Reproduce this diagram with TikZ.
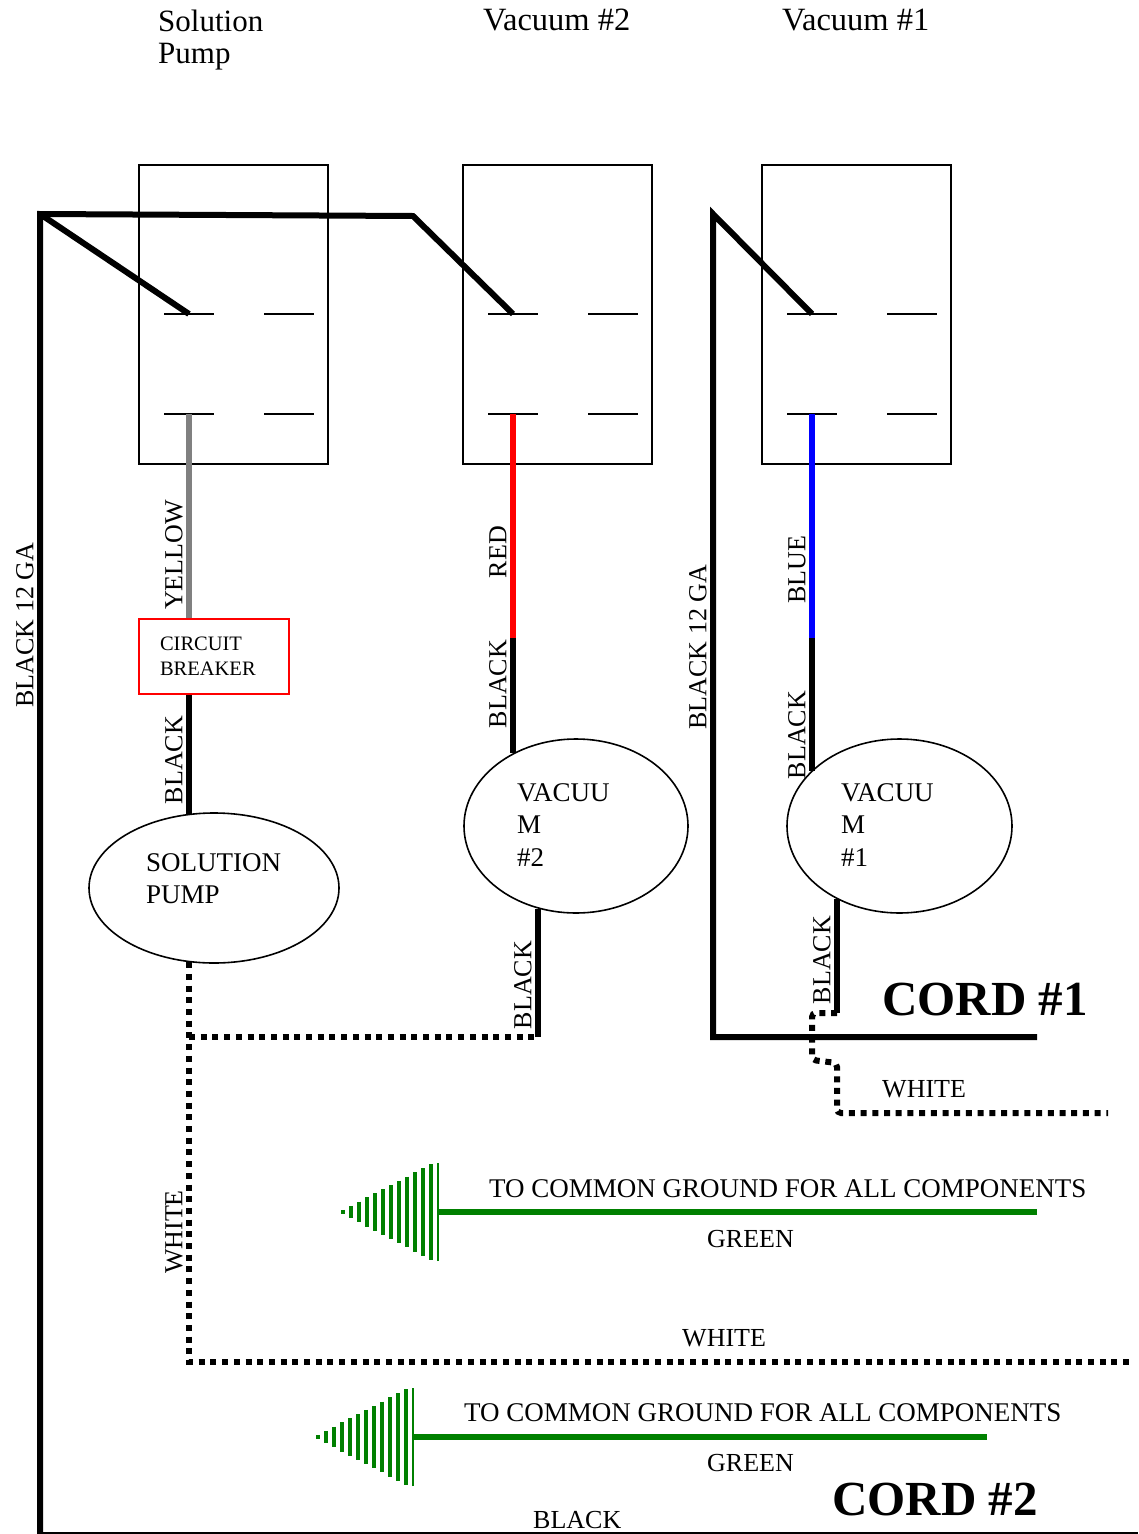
\documentclass[tikz,border=0pt]{standalone}
\usepackage{fontspec}
\setmainfont{Liberation Serif}
\usetikzlibrary{shapes.geometric, positioning}

\definecolor{wiregreen}{RGB}{0,128,0}

\tikzset{
	wire/.style={line width=6pt},
	whitewire/.style={line width=6pt, dash pattern=on 6pt off 5.7pt},
	groundwire/.style={line width=6pt, draw=wiregreen},
	groundstripe/.style={line width=4pt, draw=wiregreen},
	groundbar/.style={line width=1.5pt, draw=wiregreen},
	switchbox/.style={draw, line width=1.6pt, minimum width=189pt, minimum height=299pt, inner sep=0pt},
	contact/.style={line width=1.8pt},
	breaker/.style={draw=red, line width=1.6pt, minimum width=150pt, minimum height=75pt, text width=108pt, inner xsep=21pt, inner ysep=0pt, align=left, font=\fontsize{20.5}{25}\selectfont},
	motor/.style={draw, ellipse, line width=1.6pt, inner sep=0pt},
	motortext/.style={anchor=north west, align=left, inner sep=0pt, font=\fontsize{27}{32.5}\selectfont},
	toplabel/.style={inner sep=0pt, font=\fontsize{31}{32}\selectfont},
	wirelabel/.style={rotate=90, inner sep=0pt, font=\fontsize{26}{26}\selectfont},
	plainlabel/.style={anchor=base west, inner sep=0pt, font=\fontsize{26}{26}\selectfont},
	groundtext/.style={anchor=base west, inner sep=0pt, font=\fontsize{27}{27}\selectfont},
	cordlabel/.style={anchor=base west, inner sep=0pt, font=\fontsize{49}{49}\selectfont\bfseries}
}

\begin{document}
\begin{tikzpicture}[x=1pt, y=-1pt]
	\useasboundingbox (0,0) rectangle (1138,1534);

	\node[toplabel, anchor=north west, align=left] (SolutionTitle) at (158,10) {Solution\\Pump};
	\node[toplabel, anchor=base west, font=\fontsize{32.5}{32}\selectfont] (VacuumTwoTitle) at (483,30) {Vacuum \#2};
	\node[toplabel, anchor=base west, font=\fontsize{32.5}{32}\selectfont] (VacuumOneTitle) at (782,30) {Vacuum \#1};

	\node[switchbox] (SolSwitch) at (233.5,314.5) {};
	\node[switchbox] (VacTwoSwitch) at (557.5,314.5) {};
	\node[switchbox] (VacOneSwitch) at (856.5,314.5) {};
	\foreach \x in {164,264,488,588,787,887}
		\draw[contact] (\x,314) -- ++(50,0) (\x,414) -- ++(50,0);

	\coordinate (SolIn) at (189,314);
	\coordinate (SolOut) at (189,414);
	\coordinate (VacTwoIn) at (513,314);
	\coordinate (VacTwoOut) at (513,414);
	\coordinate (VacOneIn) at (812,314);
	\coordinate (VacOneOut) at (812,414);
	\coordinate (LeftTop) at (40,214);
	\coordinate (LeftBottom) at (40,1534);
	\coordinate (TopBend) at (413,216);
	\coordinate (CordOneTop) at (713,214);
	\coordinate (CordOneBend) at (713,1037);
	\coordinate (CordOneEnd) at (1037,1037);
	\coordinate (VacTwoSplice) at (513,638);
	\coordinate (VacOneSplice) at (812,638);
	\coordinate (VacTwoReturn) at (538,1037);
	\coordinate (VacOneReturn) at (837,1013);
	\coordinate (WhiteOneEnd) at (1108,1113);
	\coordinate (WhiteTwoEnd) at (1134,1362);
	\coordinate (CordTwoBlack) at (1138,1532.8);

	\node[breaker] (Breaker) at (214,656.5) {CIRCUIT\\BREAKER};
	\node[motor, minimum width=250pt, minimum height=150pt] (SolPump) at (214,888) {};
	\node[motor, minimum width=224pt, minimum height=174pt] (VacTwo) at (576,826) {};
	\node[motor, minimum width=225pt, minimum height=174pt] (VacOne) at (899.5,826) {};
	\node[motortext] (SolPumpText) at (146,853) {SOLUTION\\PUMP};
	\node[motortext] (VacTwoText) at (517,783) {VACUU\\M\\\#2};
	\node[motortext] (VacOneText) at (841,783) {VACUU\\M\\\#1};

	\draw[wire] (LeftBottom) -- (LeftTop) -- (TopBend) -- (VacTwoIn);
	\draw[wire] (LeftTop) -- (SolIn);
	\draw[wire] (VacOneIn) -- (CordOneTop) -- (CordOneBend) -- (CordOneEnd);
	\draw[line width=2.5pt] (LeftBottom |- CordTwoBlack) -- (CordTwoBlack);

	\draw[wire, gray] (SolOut) -- (SolOut |- Breaker.north);
	\draw[wire] (SolOut |- Breaker.south) -- (SolOut |- SolPump.109);
	\draw[wire, red] (VacTwoOut) -- (VacTwoSplice);
	\draw[wire] (VacTwoSplice) -- (VacTwoSplice |- VacTwo.131);
	\draw[wire] (VacTwo.245 -| VacTwoReturn) -- (VacTwoReturn);
	\draw[wire, blue] (VacOneOut) -- (VacOneSplice);
	\draw[wire] (VacOneSplice) -- (VacOneSplice |- VacOne.148);
	\draw[wire] (VacOne.229 -| VacOneReturn) -- (VacOneReturn);

	\draw[whitewire] (SolPump.251 -| SolOut) -- (SolOut |- WhiteTwoEnd) -- (WhiteTwoEnd);
	\draw[whitewire] (SolOut |- VacTwoReturn) -- (VacTwoReturn);
	\draw[whitewire, rounded corners=4pt] (VacOneReturn) -- ++(-25,0) -- ++(0,47) -- ++(25,3) -- (VacOneReturn |- WhiteOneEnd) -- (WhiteOneEnd);

	\coordinate (GroundOneTip) at (339,1212);
	\coordinate (GroundOneBase) at (438,1212);
	\coordinate (GroundOneStart) at (1037,1212);
	\draw[groundwire] (GroundOneStart) -- (GroundOneBase);
	\draw[groundbar] ([yshift=-49pt]GroundOneBase) -- ([yshift=49pt]GroundOneBase);
	\foreach \x in {4,12,...,92}
		\draw[groundstripe] ([shift={(\x,-0.52*\x)}]GroundOneTip) -- ([shift={(\x,0.52*\x)}]GroundOneTip);

	\coordinate (GroundTwoTip) at (314,1437);
	\coordinate (GroundTwoBase) at (413,1437);
	\coordinate (GroundTwoStart) at (987,1437);
	\draw[groundwire] (GroundTwoStart) -- (GroundTwoBase);
	\draw[groundbar] ([yshift=-49pt]GroundTwoBase) -- ([yshift=49pt]GroundTwoBase);
	\foreach \x in {4,12,...,92}
		\draw[groundstripe] ([shift={(\x,-0.52*\x)}]GroundTwoTip) -- ([shift={(\x,0.52*\x)}]GroundTwoTip);

	\node[wirelabel] (LeftGauge) at (25,625) {BLACK 12 GA};
	\node[wirelabel] (YellowLabel) at (174,555) {YELLOW};
	\node[wirelabel] (SolBlackLabel) at (174,760) {BLACK};
	\node[wirelabel] (RedLabel) at (498,552) {RED};
	\node[wirelabel] (VacTwoBlackLabel) at (498,684) {BLACK};
	\node[wirelabel] (CordOneGauge) at (698,647) {BLACK 12 GA};
	\node[wirelabel] (BlueLabel) at (797,570) {BLUE};
	\node[wirelabel] (VacOneBlackLabel) at (797,735) {BLACK};
	\node[wirelabel] (VacTwoReturnLabel) at (523,985) {BLACK};
	\node[wirelabel] (VacOneReturnLabel) at (822,960) {BLACK};
	\node[wirelabel] (WhiteTwoLabel) at (174,1232) {WHITE};

	\node[cordlabel] (CordOne) at (882,1015) {CORD \#1};
	\node[plainlabel] (WhiteOneLabel) at (882,1097) {WHITE};
	\node[groundtext] (GroundOneText) at (489,1197) {TO COMMON GROUND FOR ALL COMPONENTS};
	\node[plainlabel] (GreenOneLabel) at (707,1247) {GREEN};
	\node[plainlabel] (WhiteTwoText) at (682,1346) {WHITE};
	\node[groundtext] (GroundTwoText) at (464,1421) {TO COMMON GROUND FOR ALL COMPONENTS};
	\node[plainlabel] (GreenTwoLabel) at (707,1471) {GREEN};
	\node[cordlabel] (CordTwo) at (832,1515) {CORD \#2};
	\node[plainlabel] (CordTwoBlackLabel) at (533,1528) {BLACK};
\end{tikzpicture}
\end{document}
